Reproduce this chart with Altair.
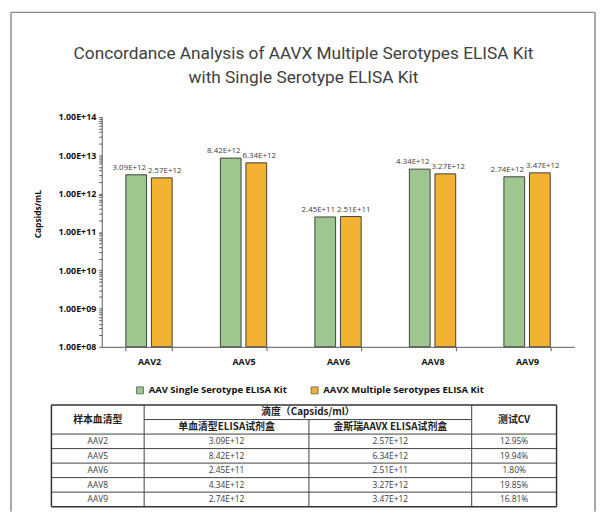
import altair as alt
import pandas as pd

# ---------------- data ----------------
serotypes = ["AAV2", "AAV5", "AAV6", "AAV8", "AAV9"]
single_kit = [3.09e12, 8.42e12, 2.45e11, 4.34e12, 2.74e12]
multi_kit = [2.57e12, 6.34e12, 2.51e11, 3.27e12, 3.47e12]
cv_text = ["12.95%", "19.94%", "1.80%", "19.85%", "16.81%"]
series_names = ["AAV Single Serotype ELISA Kit", "AAVX Multiple Serotypes ELISA Kit"]
series_colors = ["#9DC78E", "#F4B233"]
title_lines = ["Concordance Analysis of AAVX Multiple Serotypes ELISA Kit",
               "with Single Serotype ELISA Kit"]
y_title = "Capsids/mL"
hdr_sample = "样本血清型"
hdr_titer = "滴度（Capsids/ml）"
hdr_single = "单血清型ELISA试剂盒"
hdr_multi = "金斯瑞AAVX ELISA试剂盒"
hdr_cv = "测试CV"

# ---------------- layout ----------------
W, H = 479, 233
COL_EDGES = [0, 94, 261, 426, 512]      # table column edges (table px units)
TABLE_X_RANGE = [-51, 461]               # pixels relative to plot origin
TABLE_Y_RANGE = [292, 395]               # 7 rows

def sci(v):
    return f"{v:.2E}"

rows = []
for i, c in enumerate(serotypes):
    rows.append({"category": c, "series": series_names[0], "value": single_kit[i], "label": sci(single_kit[i])})
    rows.append({"category": c, "series": series_names[1], "value": multi_kit[i], "label": sci(multi_kit[i])})
bar_df = pd.DataFrame(rows)

yvals = []
for k in range(8, 14):
    for m in range(1, 10):
        yvals.append(float(m) * 10.0 ** k)
yvals.append(1e14)

label_expr = ("abs(log(datum.value)/LN10 - round(log(datum.value)/LN10)) < 0.000001 ? "
              "'1.00E+' + format(round(log(datum.value)/LN10), '02d') : ''")

AX = "#595959"
FONT = "Open Sans"

x_enc = alt.X("category:N", sort=serotypes,
              scale=alt.Scale(domain=serotypes, paddingInner=0.51, paddingOuter=0.255),
              axis=alt.Axis(title=None, labelAngle=0, tickBand="extent", tickSize=4,
                            domainColor=AX, tickColor=AX, labelFont=FONT, labelFontWeight="bold",
                            labelFontSize=9, labelColor="#111", labelPadding=7))
xo_enc = alt.XOffset("series:N", sort=series_names,
                     scale=alt.Scale(domain=series_names, paddingInner=0.19, paddingOuter=0))
y_enc = alt.Y("value:Q", stack=None,
              scale=alt.Scale(type="log", domain=[1e8, 1e14], nice=False),
              axis=alt.Axis(values=yvals, labelExpr=label_expr, labelOverlap=False, tickSize=3,
                            grid=False, domainColor=AX, tickColor=AX, labelFont=FONT,
                            labelFontWeight="bold", labelFontSize=9, labelColor="#111",
                            labelPadding=3, title=y_title, titleFont=FONT, titleFontWeight="bold",
                            titleFontSize=8.5, titleColor="#111", titleAngle=-90,
                            titleAlign="center", titleBaseline="middle",
                            titleX=-65, titleY=98))

bars = alt.Chart(bar_df).mark_bar(stroke="#404040", strokeWidth=1).encode(
    x=x_enc, xOffset=xo_enc, y=y_enc,
    color=alt.Color("series:N", scale=alt.Scale(domain=series_names, range=series_colors),
                    legend=alt.Legend(orient="none", legendX=34, legendY=272, direction="horizontal",
                                      title=None, symbolType="square", symbolSize=49,
                                      symbolStrokeColor="#707070", symbolStrokeWidth=1,
                                      labelFont=FONT, labelFontWeight="bold", labelFontSize=9.6,
                                      labelColor="#111", columnPadding=22, labelLimit=300,
                                      labelOffset=4)),
)

lab_g = alt.Chart(bar_df).transform_filter(alt.datum.series == series_names[0]).mark_text(
    dx=-7, dy=-3, baseline="bottom", fontSize=8, font=FONT, color="#404040"
).encode(x=x_enc, xOffset=xo_enc, y=y_enc, text="label:N")
lab_o = alt.Chart(bar_df).transform_filter(alt.datum.series == series_names[1]).mark_text(
    dx=3, dy=-3, baseline="bottom", fontSize=8, font=FONT, color="#404040"
).encode(x=x_enc, xOffset=xo_enc, y=y_enc, text="label:N")

bars_layer = alt.layer(bars, lab_g, lab_o)

# ---------------- table ----------------
c0, c1, c2, c3, c4 = COL_EDGES
outer_lines = pd.DataFrame([
    {"x": c0, "x2": c4, "y": 0, "y2": 0},
    {"x": c0, "x2": c4, "y": 7, "y2": 7},
    {"x": c0, "x2": c0, "y": 0, "y2": 7},
    {"x": c4, "x2": c4, "y": 0, "y2": 7},
])
inner = [
    {"x": c1, "x2": c3, "y": 1, "y2": 1},
    {"x": c1, "x2": c1, "y": 0, "y2": 7},
    {"x": c2, "x2": c2, "y": 1, "y2": 7},
    {"x": c3, "x2": c3, "y": 0, "y2": 7},
]
for r in range(2, 7):
    inner.append({"x": c0, "x2": c4, "y": r, "y2": r})
inner_lines = pd.DataFrame(inner)

tx_scale = alt.Scale(domain=[c0, c4], range=TABLE_X_RANGE, nice=False, zero=False)
ty_scale = alt.Scale(domain=[0, 7], range=TABLE_Y_RANGE, nice=False, zero=False)

def rule_layer(df, color, sw):
    return alt.Chart(df).mark_rule(color=color, strokeWidth=sw).encode(
        x=alt.X("x:Q", scale=tx_scale, axis=None),
        x2="x2:Q",
        y=alt.Y("y:Q", scale=ty_scale, axis=None),
        y2="y2:Q",
    )

hdr_df = pd.DataFrame([
    {"tx": (c0 + c1) / 2, "ty": 1.0, "t": hdr_sample},
    {"tx": (c1 + c3) / 2, "ty": 0.5, "t": hdr_titer},
    {"tx": (c1 + c2) / 2, "ty": 1.5, "t": hdr_single},
    {"tx": (c2 + c3) / 2, "ty": 1.5, "t": hdr_multi},
    {"tx": (c3 + c4) / 2, "ty": 1.0, "t": hdr_cv},
])
body = []
for i, c in enumerate(serotypes):
    yy = 2.5 + i
    body.append({"tx": (c0 + c1) / 2, "ty": yy, "t": c})
    body.append({"tx": (c1 + c2) / 2, "ty": yy, "t": sci(single_kit[i])})
    body.append({"tx": (c2 + c3) / 2, "ty": yy, "t": sci(multi_kit[i])})
    body.append({"tx": (c3 + c4) / 2, "ty": yy, "t": cv_text[i]})
body_df = pd.DataFrame(body)

hdr_text = alt.Chart(hdr_df).mark_text(font="Noto Sans CJK SC", fontWeight="bold", fontSize=10,
                                       color="#222", baseline="middle").encode(
    x=alt.X("tx:Q", scale=tx_scale, axis=None),
    y=alt.Y("ty:Q", scale=ty_scale, axis=None),
    text="t:N")
body_text = alt.Chart(body_df).mark_text(font=FONT, fontSize=8.5, color="#3a3a3a",
                                         baseline="middle").encode(
    x=alt.X("tx:Q", scale=tx_scale, axis=None),
    y=alt.Y("ty:Q", scale=ty_scale, axis=None),
    text="t:N")

table_layer = alt.layer(rule_layer(inner_lines, "#404040", 1),
                        rule_layer(outer_lines, "#333333", 1.5),
                        hdr_text, body_text)

# ---------------- frame & title ----------------
frame_df = pd.DataFrame({"k": [0]})
FR = "#8a8a8a"
frame_left = alt.Chart(frame_df).mark_rule(color=FR, strokeWidth=1.5).encode(
    x=alt.value(-92), y=alt.value(-106), y2=alt.value(400))
frame_right = alt.Chart(frame_df).mark_rule(color=FR, strokeWidth=1.5).encode(
    x=alt.value(500), y=alt.value(-106), y2=alt.value(400))
frame_top = alt.Chart(frame_df).mark_rule(color=FR, strokeWidth=1.5).encode(
    x=alt.value(-92), x2=alt.value(500), y=alt.value(-106))

title_mark = alt.Chart(frame_df).mark_text(
    font="Roboto", fontSize=17.5, color="#404040", align="center", baseline="middle",
    lineHeight=25
).encode(text=alt.value(title_lines), x=alt.value(W / 2 - 35), y=alt.value(-64))

chart = alt.layer(bars_layer, table_layer, frame_left, frame_right, frame_top, title_mark).resolve_scale(
    x="independent", y="independent"
).properties(
    width=W, height=H,
    padding={"left": 95, "top": 107, "right": 23, "bottom": 165},
    autosize=alt.AutoSizeParams(type="none"),
).configure_view(stroke=None)

chart.save("out.html", embed_options={"renderer": "svg", "actions": False})
